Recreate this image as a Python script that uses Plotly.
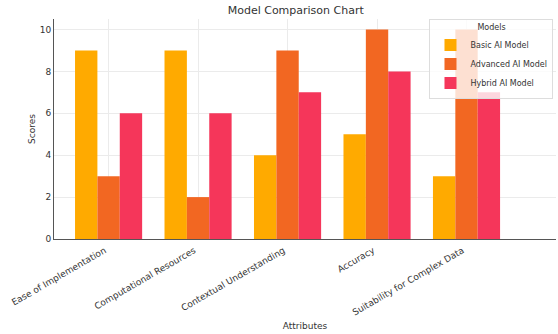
import plotly.graph_objects as go

categories = ["Ease of Implementation", "Computational Resources", "Contextual Understanding",
              "Accuracy", "Suitability for Complex Data"]
basic = [9, 9, 4, 5, 3]
advanced = [3, 2, 9, 10, 10]
hybrid = [6, 6, 7, 8, 7]
series_names = ["Basic AI Model", "Advanced AI Model", "Hybrid AI Model"]
colors = ["#FFAA00", "#F26722", "#F5365A"]

fig = go.Figure()
for name, vals, c in zip(series_names, [basic, advanced, hybrid], colors):
    fig.add_trace(go.Bar(x=list(range(len(categories))), y=vals, name=name,
                         marker=dict(color=c, line=dict(width=0))))

font = "DejaVu Sans, Verdana, sans-serif"
fig.update_layout(
    width=558, height=334,
    margin=dict(l=54, r=2, t=19, b=95),
    paper_bgcolor="white", plot_bgcolor="white",
    font=dict(family=font, size=9, color="#333333"),
    title=dict(text="Model Comparison Chart", x=0.53, xanchor="center", y=0.97, yanchor="middle",
               font=dict(size=11, color="#333333")),
    barmode="group", bargap=0.25, bargroupgap=0,
    legend=dict(x=0.995, y=1.0, xanchor="right", yanchor="top",
                bgcolor="rgba(255,255,255,0.8)", bordercolor="#dddddd", borderwidth=1,
                font=dict(size=8), title=dict(text="Models", side="top center", font=dict(size=8)),
                itemwidth=30, tracegroupgap=0),
    xaxis=dict(tickmode="array", tickvals=list(range(len(categories))), ticktext=categories,
               range=[-0.61, 5.0], tickangle=-30, showgrid=True, gridcolor="#ebebeb", gridwidth=1,
               showline=True, linecolor="#555555", linewidth=1, ticks="", zeroline=False,
               automargin=False, ticklabelshift=-4, ticklabelstandoff=2,
               title=dict(text="Attributes", font=dict(size=9), standoff=6),
               tickfont=dict(size=9)),
    yaxis=dict(range=[0, 10.5], tickvals=[0, 2, 4, 6, 8, 10], showgrid=True, gridcolor="#ebebeb",
               showline=True, linecolor="#555555", linewidth=1, ticks="", zeroline=False,
               automargin=False,
               title=dict(text="Scores", font=dict(size=9), standoff=2), tickfont=dict(size=9)),
)
fig.write_html("out.html", post_script="document.body.style.margin='0px';",
               config={"displayModeBar": False})
